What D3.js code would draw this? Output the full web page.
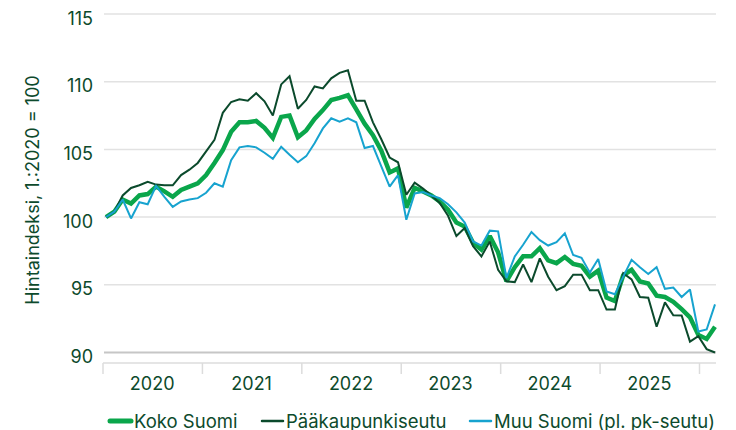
<!DOCTYPE html>
<html>
<head>
<meta charset="utf-8">
<script src="https://cdn.jsdelivr.net/npm/d3@7"></script>
<style>
  body { margin: 0; background: #fff; }
  svg { font-family: Inter, "Noto Sans", sans-serif; }
</style>
</head>
<body>
<div id="chart"></div>
<script>
// kuukausittainen hintaindeksi 1/2020 - 2/2026
var years = [2020, 2021, 2022, 2023, 2024, 2025];
var yTicks = [90, 95, 100, 105, 110, 115];

var kokoSuomi = [
  100, 100.4, 101.3, 101.0, 101.6, 101.7, 102.25, 101.9, 101.5, 102.0, 102.25, 102.5,
  103.1, 104.0, 104.95, 106.3, 107.0, 107.0, 107.1, 106.6, 105.85, 107.4, 107.5, 105.9,
  106.4, 107.25, 107.9, 108.65, 108.8, 109.0, 107.95, 106.9, 106.05, 104.9, 103.3, 103.6,
  100.7, 102.15, 101.9, 101.6, 101.15, 100.55, 99.6, 99.3, 98.1, 97.6, 98.6, 97.4,
  95.26, 96.3, 97.1, 97.1, 97.7, 96.8, 96.6, 97.05, 96.55, 96.4, 95.6, 96.05,
  94.05, 93.8, 95.7, 96.1, 95.25, 95.1, 94.2, 94.1, 93.75, 93.2, 92.6, 91.3,
  91.0, 91.9
];
var paakaupunkiseutu = [
  100, 100.4, 101.6, 102.15, 102.35, 102.6, 102.4, 102.35, 102.35, 103.1, 103.5, 104.0,
  104.85, 105.7, 107.7, 108.5, 108.7, 108.6, 109.15, 108.55, 107.5, 109.8, 110.4, 108.0,
  108.65, 109.65, 109.5, 110.25, 110.65, 110.85, 108.6, 108.6, 107.0, 105.75, 104.4, 104.05,
  101.65, 102.55, 102.1, 101.6, 101.05, 100.1, 98.6, 99.2, 97.85, 97.1, 98.2, 96.1,
  95.26, 95.2, 96.5, 95.2, 96.95, 95.6, 94.6, 94.9, 95.75, 95.75, 94.6, 94.6,
  93.17, 93.17, 95.85, 95.4, 94.1, 94.05, 91.9, 93.7, 92.75, 92.73, 90.8, 91.2,
  90.25, 90.0
];
var muuSuomi = [
  100, 100.4, 101.3, 99.9, 101.1, 100.95, 102.3, 101.5, 100.75, 101.15, 101.3, 101.4,
  101.8, 102.5, 102.25, 104.2, 105.15, 105.25, 105.15, 104.75, 104.3, 105.2, 104.6, 104.05,
  104.5, 105.45, 106.55, 107.3, 107.05, 107.3, 107.0, 105.1, 105.25, 103.75, 102.25, 103.1,
  99.8, 101.75, 101.85, 101.6, 101.4, 100.95, 100.35, 99.6, 98.2, 97.9, 99.0, 98.95,
  95.5, 97.1, 97.96, 98.9, 98.3, 97.9, 98.15, 98.8, 97.2, 97.0, 95.9, 96.9,
  94.5, 94.3, 95.6, 96.85, 96.3, 95.8, 96.3, 94.7, 94.8, 94.1, 94.65, 91.55,
  91.7, 93.55
];

var seriesNames = ["Koko Suomi", "Pääkaupunkiseutu", "Muu Suomi (pl. pk-seutu)"];
var seriesColors = ["#0aa64b", "#0b4a2c", "#17a3cf"];
var seriesWidths = [4.5, 2, 2];
var seriesData = [kokoSuomi, paakaupunkiseutu, muuSuomi];

var textColor = "#0d4a2c";
var width = 736, height = 430;

var svg = d3.select("#chart").append("svg")
    .attr("width", width)
    .attr("height", height);

var x = d3.scaleLinear()
    .domain([0, kokoSuomi.length - 1])
    .range([106, 715]);

var y = d3.scaleLinear()
    .domain([90, 115])
    .range([352.5, 14]);

// vuosijaot alaakselilla
var xYear = d3.scaleLinear()
    .domain([years[0], years[years.length - 1] + 1])
    .range([102.5, 699]);

// gridlines
svg.append("g")
    .selectAll("line")
    .data(yTicks)
    .enter()
    .append("line")
    .attr("x1", 104)
    .attr("x2", 716)
    .attr("y1", d => y(d))
    .attr("y2", d => y(d))
    .attr("stroke", d => d == 90 ? "#c6c6c6" : "#e2e2e2")
    .attr("stroke-width", d => d == 90 ? 2 : 1.5);

// y tick labels
var yAxis = svg.append("g")
    .attr("transform", "translate(93,0)")
    .call(d3.axisLeft(y).tickValues(yTicks).tickSize(0).tickPadding(0));
yAxis.select(".domain").remove();
yAxis.selectAll("text")
    .attr("dy", null)
    .attr("y", 10)
    .attr("fill", textColor)
    .style("font-size", "18px")
    .style("font-family", "Inter, sans-serif");

svg.append("text")
    .attr("transform", "translate(39,190) rotate(-90)")
    .attr("text-anchor", "middle")
    .attr("fill", textColor)
    .style("font-size", "18px")
    .text("Hintaindeksi, 1.:2020 = 100");

// x axis
svg.append("line")
    .attr("x1", 103)
    .attr("x2", 716)
    .attr("y1", 363)
    .attr("y2", 363)
    .attr("stroke", "#dcdcdc")
    .attr("stroke-width", 1.5);

var xAxis = svg.append("g")
    .attr("transform", "translate(0,363)")
    .call(d3.axisBottom(xYear)
        .tickValues(d3.range(years[0], years[years.length - 1] + 2))
        .tickSize(11)
        .tickFormat(""));
xAxis.select(".domain").remove();
xAxis.selectAll("line")
    .attr("stroke", "#dcdcdc")
    .attr("stroke-width", 1.5);

svg.append("g")
    .selectAll("text")
    .data(years)
    .enter()
    .append("text")
    .attr("x", d => xYear(d + 0.5))
    .attr("y", 390)
    .attr("text-anchor", "middle")
    .attr("fill", textColor)
    .style("font-size", "18px")
    .text(d => d);

// lines
var line = d3.line()
    .x((d, i) => x(i))
    .y(d => y(d));

svg.append("g")
    .selectAll("path")
    .data(seriesData)
    .enter()
    .append("path")
    .attr("d", d => line(d))
    .attr("fill", "none")
    .attr("stroke", (d, i) => seriesColors[i])
    .attr("stroke-width", (d, i) => seriesWidths[i])
    .attr("stroke-linejoin", "miter")
    .attr("stroke-miterlimit", 2);

// legend
var legendX = [110, 262, 470];
var legend = svg.append("g")
    .selectAll("g")
    .data(seriesNames)
    .enter()
    .append("g")
    .attr("transform", (d, i) => "translate(" + legendX[i] + ",421)");

legend.append("line")
    .attr("x1", 0)
    .attr("x2", 21)
    .attr("stroke", (d, i) => seriesColors[i])
    .attr("stroke-width", (d, i) => i == 0 ? 5 : 2.5)
    .attr("stroke-linecap", "round");

legend.append("text")
    .attr("x", 24)
    .attr("y", 6.5)
    .attr("fill", textColor)
    .style("font-size", "18.5px")
    .text(d => d);
</script>
</body>
</html>
